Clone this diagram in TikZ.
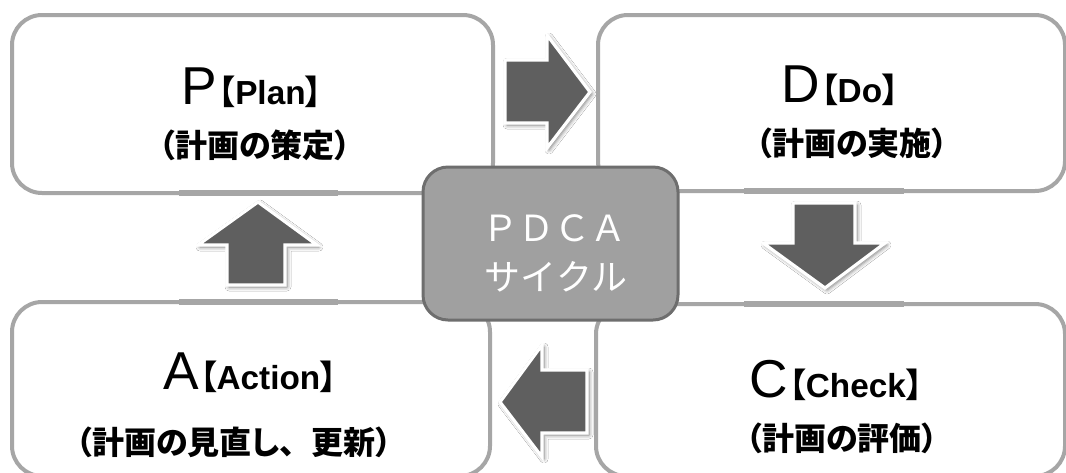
\documentclass[tikz,border=0pt]{standalone}
\usepackage{fontspec}
\setmainfont{Noto Sans CJK JP}[RawFeature={+palt}]
\newfontfamily\cyclefont{Noto Sans CJK JP}
\newfontfamily\latinfont{Liberation Sans}
\usetikzlibrary{shadows.blur}

\definecolor{boxgray}{HTML}{A6A6A6}
\definecolor{hubfill}{HTML}{A0A0A0}
\definecolor{hubline}{HTML}{6E6E6E}
\definecolor{arrowgray}{HTML}{5F5F5F}

\newcommand{\stagehead}[2]{{\latinfont\fontsize{40pt}{40pt}\selectfont #1}\kern1pt{\fontsize{25pt}{25pt}\selectfont\bfseries 【{\latinfont #2}】}}
\newcommand{\stagenote}[1]{{\fontsize{24pt}{24pt}\selectfont\bfseries （#1）}}

\begin{document}
\begin{tikzpicture}[x=0.75pt,y=-0.75pt,
  stagebox/.style={draw=boxgray,line width=3pt,rounded corners=22.5pt,fill=white},
  seam/.style={draw=boxgray,line width=3.8pt},
  bigarrow/.style={fill=arrowgray,draw=white,line width=2.4pt,line join=miter,
    blur shadow={shadow xshift=1.5pt,shadow yshift=-1.5pt,shadow blur radius=3pt,shadow opacity=55}},
  stagetext/.style={anchor=base,inner sep=0pt}]
\useasboundingbox (0,0) rectangle (1066,472);
\clip (0,0) rectangle (1066,472);
\fill[white] (0,0) rectangle (1066,472);
% four stages
\node[stagebox,minimum width=360.75pt,minimum height=133.5pt] (P) at (252.5,104) {};
\node[stagebox,minimum width=350.25pt,minimum height=132pt] (D) at (831.5,103) {};
\node[stagebox,minimum width=358.5pt,minimum height=130.5pt] (A) at (251,389) {};
\node[stagebox,minimum width=351.75pt,minimum height=129pt] (C) at (830.5,390) {};
\draw[seam] (179,193) -- (338,193);
\draw[seam] (744,191) -- (904,191);
\draw[seam] (179,302) -- (338,302);
\draw[seam] (744,304) -- (904,304);
% hub
\node[draw=hubline,fill=hubfill,line width=2.25pt,rounded corners=18.75pt,
  minimum width=191.25pt,minimum height=114.75pt] (hub) at (550.5,243.5) {};
\node[stagetext,text=white] (hubtop) at (554,241) {\cyclefont\fontsize{27pt}{27pt}\selectfont ＰＤＣＡ};
\node[stagetext,text=white] (hubbottom) at (556,290) {\cyclefont\fontsize{27pt}{27pt}\selectfont サイクル};
% block arrows
\draw[bigarrow] (505,60) -- (547,60) -- (547,35) -- (590,92) -- (547,148) -- (547,123) -- (505,123) -- cycle;
\draw[bigarrow] (793,203) -- (855,203) -- (855,243) -- (885,243) -- (825,288) -- (763,243) -- (793,243) -- cycle;
\draw[bigarrow] (587,370) -- (542,370) -- (542,345) -- (500,402) -- (542,457) -- (542,433) -- (587,433) -- cycle;
\draw[bigarrow] (227,285) -- (285,285) -- (285,245) -- (317,245) -- (258,202) -- (198,245) -- (227,245) -- cycle;
% labels
\node[stagetext] (Phead) at (252,104) {\stagehead{P}{Plan}};
\node[stagetext] (Pnote) at (255,157) {\stagenote{計画の策定}};
\node[stagetext] (Dhead) at (840,102) {\stagehead{D}{Do}};
\node[stagetext] (Dnote) at (852,155) {\stagenote{計画の実施}};
\node[stagetext] (Chead) at (836,397) {\stagehead{C}{Check}};
\node[stagetext] (Cnote) at (842,450) {\stagenote{計画の評価}};
\node[stagetext] (Ahead) at (250,389) {\stagehead{A}{Action}};
\node[stagetext] (Anote) at (234,454) {\stagenote{計画の見直し{\cyclefont 、}更新}};
\end{tikzpicture}
\end{document}
